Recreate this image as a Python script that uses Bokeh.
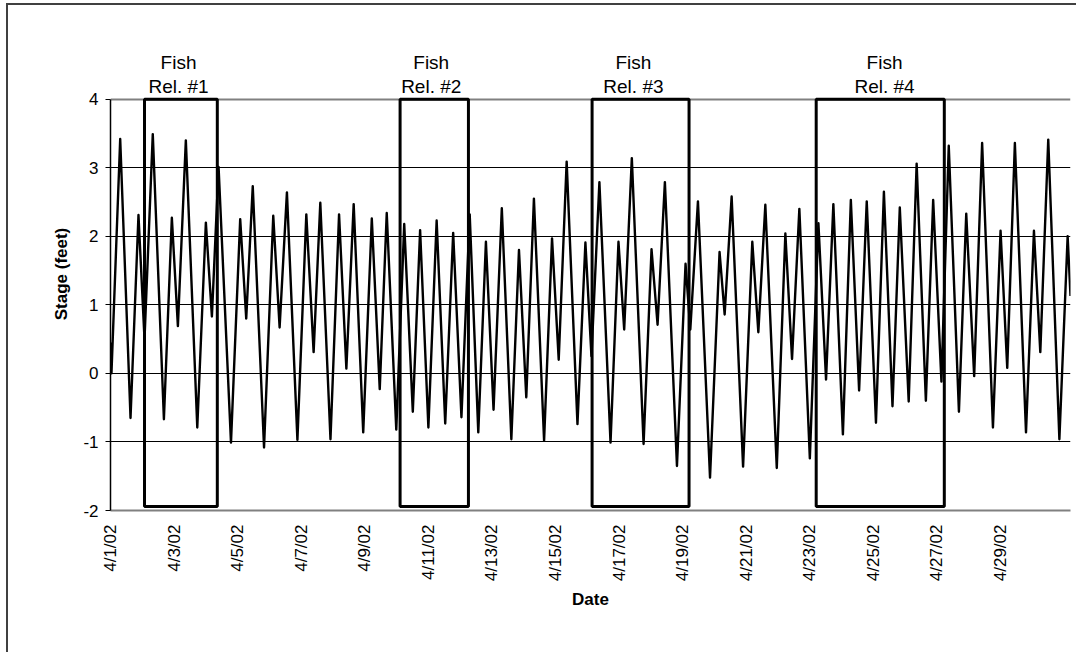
import math
from bokeh.plotting import figure
from bokeh.models import FixedTicker, Range1d, ColumnDataSource, Grid
from bokeh.core.properties import value
from bokeh.embed import file_html
from bokeh.resources import INLINE

# ---- data: tide stage extrema (days after 4/1/02 00:00, feet) ----
day_offset = [
    0.00, 0.03, 0.305, 0.63, 0.88, 1.07, 1.33, 1.68, 1.93, 2.12, 2.37, 2.73,
    3.00, 3.19, 3.40, 3.79, 4.08, 4.27, 4.475, 4.83, 5.12, 5.32, 5.55, 5.88,
    6.16, 6.39, 6.60, 6.92, 7.19, 7.42, 7.65, 7.95, 8.22, 8.47, 8.69, 8.99,
    9.24, 9.51, 9.74, 10.00, 10.26, 10.53, 10.78, 11.04, 11.30, 11.57, 11.81, 12.05,
    12.31, 12.61, 12.85, 13.08, 13.32, 13.64, 13.89, 14.10, 14.35, 14.69, 14.94, 15.13,
    15.38, 15.73, 15.98, 16.16, 16.40, 16.77, 17.02, 17.21, 17.44, 17.82, 18.09, 18.24,
    18.48, 18.86, 19.16, 19.32, 19.54, 19.90, 20.19, 20.38, 20.60, 20.96, 21.23, 21.44,
    21.67, 22.00, 22.27, 22.51, 22.74, 23.04, 23.29, 23.55, 23.79, 24.08, 24.33, 24.60,
    24.83, 25.11, 25.36, 25.65, 25.88, 26.14, 26.37, 26.69, 26.92, 27.17, 27.42, 27.76,
    28.00, 28.21, 28.45, 28.80, 29.05, 29.25, 29.50, 29.85, 30.11, 30.20,
]
stage_ft = [
    0.45, 0.00, 3.42, -0.65, 2.31, 0.50, 3.49, -0.67, 2.27, 0.69, 3.40, -0.79,
    2.20, 0.83, 3.01, -1.01, 2.25, 0.80, 2.73, -1.08, 2.30, 0.67, 2.64, -0.97,
    2.32, 0.31, 2.49, -0.96, 2.32, 0.07, 2.47, -0.86, 2.26, -0.23, 2.34, -0.82,
    2.18, -0.56, 2.09, -0.79, 2.23, -0.73, 2.05, -0.64, 2.32, -0.86, 1.92, -0.53,
    2.41, -0.96, 1.80, -0.35, 2.55, -0.98, 1.97, 0.20, 3.09, -0.74, 1.91, 0.25,
    2.79, -1.01, 1.92, 0.64, 3.14, -1.03, 1.81, 0.71, 2.79, -1.35, 1.60, 0.64,
    2.51, -1.52, 1.77, 0.86, 2.58, -1.36, 1.92, 0.60, 2.46, -1.38, 2.04, 0.21,
    2.40, -1.24, 2.19, -0.09, 2.47, -0.89, 2.53, -0.25, 2.51, -0.72, 2.65, -0.48,
    2.42, -0.41, 3.06, -0.40, 2.53, -0.12, 3.32, -0.56, 2.33, -0.04, 3.36, -0.79,
    2.08, 0.08, 3.36, -0.86, 2.08, 0.31, 3.41, -0.96, 2.00, 1.13,
]

tick_days = [0, 2, 4, 6, 8, 10, 12, 14, 16, 18, 20, 22, 24, 26, 28]
tick_labels = ["4/1/02", "4/3/02", "4/5/02", "4/7/02", "4/9/02", "4/11/02", "4/13/02",
               "4/15/02", "4/17/02", "4/19/02", "4/21/02", "4/23/02", "4/25/02",
               "4/27/02", "4/29/02"]
y_ticks = [-2, -1, 0, 1, 2, 3, 4]
y_tick_labels = ["-2", "-1", "0", "1", "2", "3", "4"]
grid_ticks = [-1, 0, 1, 2, 3]

release_first = ["Fish", "Fish", "Fish", "Fish"]
release_names = ["Rel. #1", "Rel. #2", "Rel. #3", "Rel. #4"]
release_label_x = [2.14, 10.09, 16.45, 24.35]
release_start = [1.07, 9.11, 15.15, 22.20]
release_end = [3.36, 11.26, 18.20, 26.23]
box_top = [4.0, 4.0, 4.0, 4.0]
box_bottom = [-1.94, -1.94, -1.94, -1.94]

X_MIN, X_MAX = 0, 30.2
Y_MIN, Y_MAX = -2, 4
FONT = "Liberation Sans"

p = figure(width=1070, height=649,
           x_range=Range1d(X_MIN, X_MAX), y_range=Range1d(Y_MIN, 4.9),
           output_backend="svg", toolbar_location=None,
           min_border_left=102, min_border_right=8,
           min_border_top=32, min_border_bottom=144)
p.styles = {"margin-left": "6px", "margin-top": "3px",
            "border-left-width": "2px", "border-left-style": "solid",
            "border-left-color": "#404040",
            "border-top-width": "2px", "border-top-style": "solid",
            "border-top-color": "#404040",
            "border-right-style": "none", "border-bottom-style": "none"}

p.background_fill_color = "white"
p.border_fill_color = "white"
p.outline_line_color = None

# grid
p.xgrid.visible = False
p.ygrid.ticker = FixedTicker(ticks=grid_ticks)
p.ygrid.grid_line_color = "black"
p.ygrid.grid_line_width = 1

# plot-area border (top and right) in grey
top_border = Grid(dimension=1, ticker=FixedTicker(ticks=[Y_MAX]),
                  grid_line_color="#808080", grid_line_width=2)
right_border = Grid(dimension=0, ticker=FixedTicker(ticks=[X_MAX]), bounds=(Y_MIN, Y_MAX),
                    grid_line_color="#808080", grid_line_width=3)
p.add_layout(top_border)
p.add_layout(right_border)

# y axis
p.yaxis.ticker = FixedTicker(ticks=y_ticks)
p.yaxis.bounds = (Y_MIN, Y_MAX)
p.yaxis.major_label_overrides = dict(zip(y_ticks, y_tick_labels))
p.yaxis.axis_line_color = "black"
p.yaxis.axis_line_width = 1.5
p.yaxis.major_tick_in = 0
p.yaxis.major_tick_out = 5
p.yaxis.major_tick_line_color = "black"
p.yaxis.minor_tick_line_color = None
p.yaxis.major_label_standoff = 7
p.yaxis.major_label_text_font = FONT
p.yaxis.major_label_text_font_size = "17px"
p.yaxis.major_label_text_color = "black"
p.yaxis.axis_label = "Stage (feet)"
p.yaxis.axis_label_text_font = FONT
p.yaxis.axis_label_text_font_size = "17px"
p.yaxis.axis_label_text_font_style = "bold"
p.yaxis.axis_label_text_color = "black"
p.yaxis.axis_label_standoff = 9

# x axis
p.xaxis.ticker = FixedTicker(ticks=tick_days)
p.xaxis.major_label_overrides = dict(zip(tick_days, tick_labels))
p.xaxis.major_label_orientation = math.pi / 2
p.xaxis.axis_line_color = "#808080"
p.xaxis.axis_line_width = 2
p.xaxis.major_tick_in = 0
p.xaxis.major_tick_out = 0
p.xaxis.minor_tick_line_color = None
p.xaxis.major_label_standoff = 14
p.xaxis.major_label_text_font = FONT
p.xaxis.major_label_text_font_size = "17px"
p.xaxis.major_label_text_color = "black"
p.xaxis.axis_label = "Date"
p.xaxis.axis_label_text_font = FONT
p.xaxis.axis_label_text_font_size = "17px"
p.xaxis.axis_label_text_font_style = "bold"
p.xaxis.axis_label_text_color = "black"
p.xaxis.axis_label_standoff = 6

# tide curve
p.line(day_offset, stage_ft, line_color="black", line_width=2.4, line_join="round")

# release boxes
box_src = ColumnDataSource(dict(left=release_start, right=release_end,
                                top=box_top, bottom=box_bottom))
p.quad(left="left", right="right", top="top", bottom="bottom", source=box_src,
       fill_color=None, line_color="black", line_width=3)

# release labels
lab_src = ColumnDataSource(dict(x=release_label_x, y1=[4.54] * 4, y2=[4.18] * 4,
                                t1=release_first, t2=release_names))
for ycol, tcol in (("y1", "t1"), ("y2", "t2")):
    p.text(x="x", y=ycol, text=tcol, source=lab_src, text_align="center",
           text_baseline="middle", text_font=value(FONT),
           text_font_size="19px", text_color="black")

open("out.html", "w").write(file_html(p, INLINE))
